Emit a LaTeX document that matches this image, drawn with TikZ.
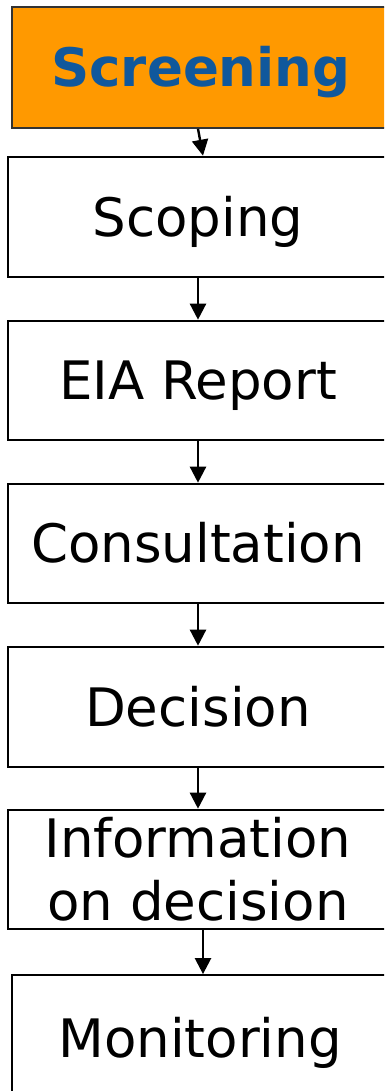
\documentclass[tikz,border=0pt]{standalone}
\usepackage{fontspec}
\setmainfont{DejaVu Sans}
\usetikzlibrary{arrows.meta}
\definecolor{scrfill}{HTML}{FF9900}
\definecolor{scrtext}{HTML}{10589C}
\definecolor{scrline}{HTML}{333333}
\begin{document}
\begin{tikzpicture}[x=1pt,y=-1pt,
  stepbox/.style={draw=black, line width=2.6pt, fill=white, inner sep=0pt,
    minimum width=380pt, font=\fontsize{53}{63}\selectfont,
    text height=38.6pt, text depth=0pt},
  arr/.style={line width=2.4pt, -{Triangle[width=16pt,length=16pt]}}]
\clip (0,0) rectangle (384,1091);
\fill[white] (0,0) rectangle (384,1091);
\node[stepbox, draw=scrline, line width=1.8pt, fill=scrfill, text=scrtext,
  font=\fontsize{53}{63}\selectfont\bfseries, minimum width=378pt, minimum height=121pt]
  (screen) at (201,67.5) {Screening};
\node[stepbox, minimum height=120pt] (scoping) at (198,217) {Scoping};
\node[stepbox, minimum height=119pt] (eia) at (198,380.5) {EIA Report};
\node[stepbox, minimum height=119pt] (cons) at (198,543.5) {Consultation};
\node[stepbox, minimum height=120pt] (dec) at (198,707) {Decision};
\node[stepbox, minimum height=119pt, align=center, text height=102pt] (info) at (198,869.5) {Information\\on decision};
\node[stepbox, line width=1.8pt, minimum width=376pt, minimum height=126pt] (mon) at (200,1038) {Monitoring};
\draw[arr] ([xshift=-3pt]screen.south) -- ([xshift=5pt]scoping.north);
\draw[arr] (scoping.south) -- (eia.north);
\draw[arr] (eia.south) -- (cons.north);
\draw[arr] (cons.south) -- (dec.north);
\draw[arr] (dec.south) -- (info.north);
\draw[arr] ([xshift=5pt]info.south) -- ([xshift=3pt]mon.north);
\end{tikzpicture}
\end{document}
